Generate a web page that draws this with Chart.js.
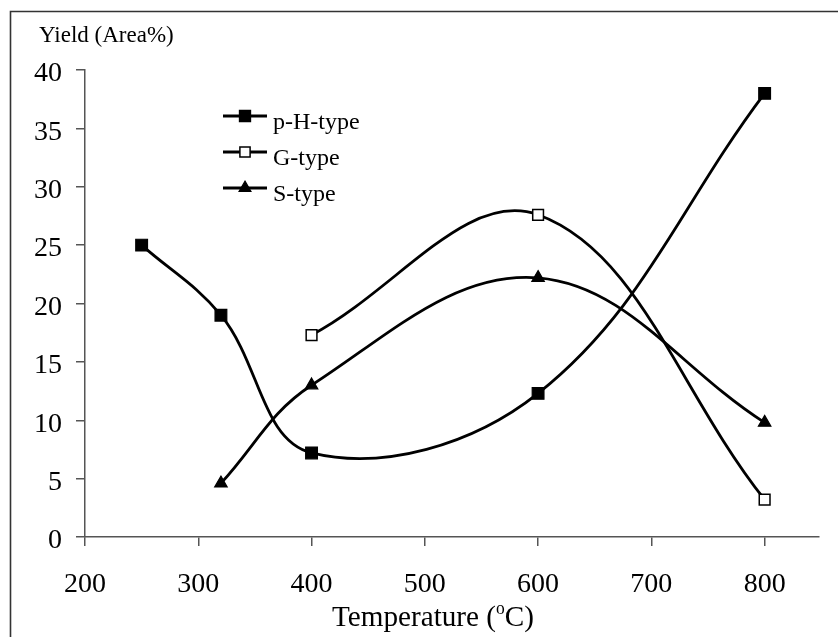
<!DOCTYPE html>
<html>
<head>
<meta charset="utf-8">
<script src="https://cdn.jsdelivr.net/npm/chart.js@4"></script>
<style>
  html, body { margin: 0; padding: 0; background: #fff; }
  #wrap { width: 838px; height: 637px; position: relative; }
</style>
</head>
<body>
<div id="wrap"><canvas id="c" width="838" height="637"></canvas></div>
<script>
// ---- data ----
const pHTemps = [250, 320, 400, 600, 800];
const pHYield = [25.0, 19.0, 7.2, 12.3, 38.0];
const gTemps  = [400, 600, 800];
const gYield  = [17.3, 27.6, 3.2];
const sTemps  = [320, 400, 600, 800];
const sYield  = [4.6, 13.0, 22.2, 9.8];
const seriesLabels = ['p-H-type', 'G-type', 'S-type'];
const xTickValues = [200, 300, 400, 500, 600, 700, 800];
const yTickValues = [0, 5, 10, 15, 20, 25, 30, 35, 40];
const yAxisTitle = 'Yield (Area%)';
const xAxisTitleParts = ['Temperature (', 'o', 'C)'];

const FONT = '"Liberation Serif", "Times New Roman", serif';
const toXY = (xs, ys) => xs.map((x, i) => ({ x: x, y: ys[i] }));

const common = {
  borderColor: '#000',
  borderWidth: 2.8,
  tension: 0.38,
  fill: false,
  clip: false,
  pointBorderColor: '#000',
  pointBorderWidth: 1.2
};

const datasets = [
  Object.assign({}, common, {
    label: seriesLabels[0], data: toXY(pHTemps, pHYield),
    pointStyle: 'rect', pointRadius: 8.3, pointBackgroundColor: '#000'
  }),
  Object.assign({}, common, {
    label: seriesLabels[1], data: toXY(gTemps, gYield),
    pointStyle: 'rect', pointRadius: 7.6, pointBackgroundColor: '#fff', pointBorderWidth: 1.5
  }),
  Object.assign({}, common, {
    label: seriesLabels[2], data: toXY(sTemps, sYield),
    pointStyle: 'triangle', pointRadius: 7.2, pointBackgroundColor: '#000'
  })
];

function drawMarker(ctx, style, x, y, r, fillC, lw) {
  ctx.save();
  ctx.fillStyle = fillC;
  ctx.strokeStyle = '#000';
  ctx.lineWidth = lw;
  ctx.beginPath();
  if (style === 'rect') {
    const s = Math.SQRT1_2 * r;
    ctx.rect(x - s, y - s, 2 * s, 2 * s);
  } else {
    for (let k = 0; k < 3; k++) {
      const a = k * 2 * Math.PI / 3;
      const px = x + Math.sin(a) * r, py = y - Math.cos(a) * r;
      if (k === 0) ctx.moveTo(px, py); else ctx.lineTo(px, py);
    }
    ctx.closePath();
  }
  ctx.fill();
  ctx.stroke();
  ctx.restore();
}

const decorPlugin = {
  id: 'decor',
  beforeDraw(chart) {
    const ctx = chart.ctx;
    ctx.save();
    ctx.fillStyle = '#fff';
    ctx.fillRect(0, 0, chart.width, chart.height);
    // frame (top + left)
    ctx.strokeStyle = '#333';
    ctx.lineWidth = 1.6;
    ctx.beginPath();
    ctx.moveTo(10.5, 637);
    ctx.lineTo(10.5, 11.5);
    ctx.lineTo(838, 11.5);
    ctx.stroke();
    ctx.restore();
  },
  afterDraw(chart) {
    const ctx = chart.ctx;
    ctx.save();
    ctx.fillStyle = '#000';
    // y-axis title
    ctx.font = '23px ' + FONT;
    ctx.textAlign = 'left';
    ctx.textBaseline = 'alphabetic';
    ctx.fillText(yAxisTitle, 39, 42);

    // x-axis title with superscript
    const big = '30px ' + FONT, small = '18px ' + FONT;
    ctx.font = big;
    const w0 = ctx.measureText(xAxisTitleParts[0]).width;
    const w2 = ctx.measureText(xAxisTitleParts[2]).width;
    ctx.font = small;
    const w1 = ctx.measureText(xAxisTitleParts[1]).width;
    const total = w0 + w1 + w2;
    const target = 202;
    const sx = target / total;
    const cx = 433;
    ctx.translate(cx - target / 2, 0);
    ctx.scale(sx, 1);
    ctx.font = big;
    ctx.fillText(xAxisTitleParts[0], 0, 626);
    ctx.font = small;
    ctx.fillText(xAxisTitleParts[1], w0, 614);
    ctx.font = big;
    ctx.fillText(xAxisTitleParts[2], w0 + w1, 626);
    ctx.restore();

    // legend
    ctx.save();
    const rows = [116, 152, 188];
    chart.data.datasets.forEach((ds, i) => {
      const y = rows[i];
      ctx.strokeStyle = '#000';
      ctx.lineWidth = 2.8;
      ctx.beginPath();
      ctx.moveTo(223, y);
      ctx.lineTo(267, y);
      ctx.stroke();
      drawMarker(ctx, ds.pointStyle, 245, y, ds.pointRadius * 0.95, ds.pointBackgroundColor, ds.pointBorderWidth);
      ctx.fillStyle = '#000';
      ctx.font = '24px ' + FONT;
      ctx.textAlign = 'left';
      ctx.textBaseline = 'alphabetic';
      ctx.fillText(ds.label, 273, y + 12.5);
    });
    ctx.restore();
  }
};

new Chart(document.getElementById('c'), {
  type: 'line',
  data: { datasets: datasets },
  plugins: [decorPlugin],
  options: {
    responsive: false,
    animation: false,
    devicePixelRatio: 1,
    layout: { padding: { top: 70, right: 19, left: 0, bottom: 0 } },
    plugins: {
      legend: { display: false },
      tooltip: { enabled: false },
      title: { display: false }
    },
    scales: {
      x: {
        type: 'linear',
        min: 200,
        max: 848,
        afterBuildTicks(scale) { scale.ticks = xTickValues.map(v => ({ value: v })); },
        afterFit(scale) { scale.height = 100; },
        border: { display: true, color: '#555', width: 1.5 },
        grid: { drawOnChartArea: false, drawTicks: true, tickLength: 9, color: '#555', lineWidth: 1.5 },
        ticks: {
          color: '#000',
          font: { family: FONT, size: 28 },
          padding: 22,
          maxRotation: 0,
          autoSkip: false
        }
      },
      y: {
        type: 'linear',
        min: 0,
        max: 40,
        afterBuildTicks(scale) { scale.ticks = yTickValues.map(v => ({ value: v })); },
        afterFit(scale) { scale.width = 85; },
        border: { display: true, color: '#555', width: 1.5 },
        grid: { drawOnChartArea: false, drawTicks: true, tickLength: 9, color: '#555', lineWidth: 1.5 },
        ticks: {
          color: '#000',
          font: { family: FONT, size: 28 },
          padding: 14,
          labelOffset: 4,
          autoSkip: false
        }
      }
    }
  }
});
</script>
</body>
</html>
